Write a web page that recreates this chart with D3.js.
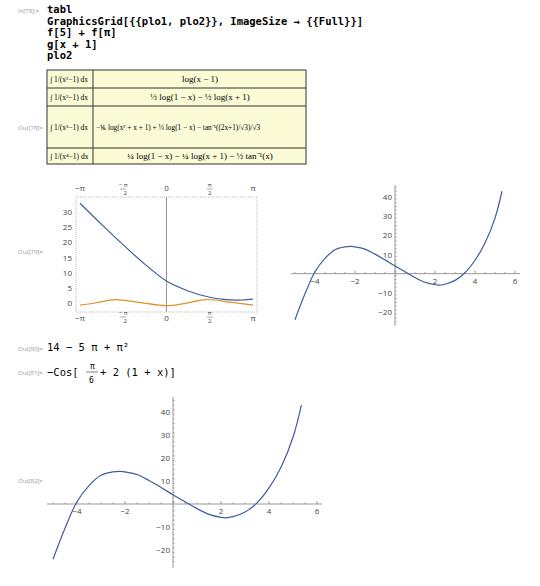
<!DOCTYPE html>
<html>
<head>
<meta charset="UTF-8">
<script src="https://d3js.org/d3.v7.min.js"></script>
<style>
body{margin:0;background:#fff}
.code{font-family:"DejaVu Sans Mono",monospace;font-weight:bold;font-size:10.5px}
.lbl{font-family:"Open Sans",sans-serif;font-size:6px;fill:#999}
.math{font-family:"Liberation Serif",serif;font-size:9px}
.tick{font-family:"Open Sans",sans-serif;font-size:8px;fill:#444}
</style>
</head>
<body>
<svg width="540" height="586"></svg>
<script>
const codeLines = ['tabl', 'GraphicsGrid[{{plo1, plo2}}, ImageSize \u2192 {{Full}}]', 'f[5] + f[\u03c0]', 'g[x + 1]', 'plo2'];
const tableRows = [
  ['\u222b 1/(x\u00b2\u22121) dx', 'log(x \u2212 1)'],
  ['\u222b 1/(x\u00b2\u22121) dx', '\u00bd log(1 \u2212 x) \u2212 \u00bd log(x + 1)'],
  ['\u222b 1/(x\u00b3\u22121) dx', '\u2212\u2159 log(x\u00b2 + x + 1) + \u2153 log(1 \u2212 x) \u2212 tan\u207b\u00b9((2x+1)/\u221a3)/\u221a3'],
  ['\u222b 1/(x\u2074\u22121) dx', '\u00bc log(1 \u2212 x) \u2212 \u00bc log(x + 1) \u2212 \u00bd tan\u207b\u00b9(x)']
];
// plo1 curves
const blueX = [-3.1416,-2.36,-1.57,-0.79,0,0.79,1.57,2.0,2.36,2.75,3.1416];
const blueY = [33,26,19.2,12.8,7.2,3.9,1.8,1.2,0.95,0.9,1.2];
const orangeX = [-3.1416,-2.6,-1.86,-1.0,0,0.7,1.45,2.3,3.1416];
const orangeY = [-0.8,-0.1,1.05,0.1,-1,-0.2,1.05,0.2,-0.8];
// plo2 cubic
const cubX = [-5,-4.5,-4,-3.5,-3,-2.5,-2.2,-2,-1.5,-1,-0.5,0,0.5,1,1.5,2,2.2,2.5,3,3.5,4,4.5,5,5.35];
const cubY = [-24,-10.5,1,8,12.5,14,14.2,14,12.8,10.2,7.2,4,1,-2,-4.5,-5.8,-6,-5.5,-3.5,0.5,7,16,29,43];
const piTicks = [-Math.PI,-Math.PI/2,0,Math.PI/2,Math.PI];
const piLabels = ['\u2212\u03c0','\u2212\u03c0/2','0','\u03c0/2','\u03c0'];
const yTicks1 = [0,5,10,15,20,25,30];
const cubXTicks = [-4,-2,2,4,6];
const cubYTicks = [-20,-10,10,20,30,40];

const svg = d3.select('svg');
const blue = '#3f5d9e', orange = '#e0902a';

// input cell
svg.append('text').attr('class','lbl').attr('x',18).attr('y',13).text('In[78]:=');
codeLines.forEach((t,i) => svg.append('text').attr('class','code').attr('x',47).attr('y',13+i*11.6).text(t));

// table
svg.append('text').attr('class','lbl').attr('x',18).attr('y',130).text('Out[78]=');
const rowY = [70,88,106,148,164];
svg.append('rect').attr('x',47).attr('y',70).attr('width',259).attr('height',94).attr('fill','#fbfbd6').attr('stroke','#333');
svg.append('line').attr('x1',93).attr('x2',93).attr('y1',70).attr('y2',164).attr('stroke','#333');
tableRows.forEach((r,i) => {
  const cy = (rowY[i]+rowY[i+1])/2 + 3;
  if (i>0) svg.append('line').attr('x1',47).attr('x2',306).attr('y1',rowY[i]).attr('y2',rowY[i]).attr('stroke','#333');
  svg.append('text').attr('class','math').attr('x',50).attr('y',cy).style('font-size','7.5px').text(r[0]);
  svg.append('text').attr('class','math').attr('x',i==2?96:200).attr('y',cy).attr('text-anchor',i==2?'start':'middle')
    .style('font-size',i==2?'7.3px':'9px').text(r[1]);
});

// plo1
svg.append('text').attr('class','lbl').attr('x',18).attr('y',254).text('Out[79]=');
const x1 = d3.scaleLinear().domain([-Math.PI,Math.PI]).range([80,253]);
const y1 = d3.scaleLinear().domain([0,30]).range([302.7,212.3]);
svg.append('rect').attr('x',76).attr('y',197).attr('width',181).attr('height',115).attr('fill','none').attr('stroke','#bbb').attr('stroke-dasharray','1,1');
svg.append('line').attr('x1',x1(0)).attr('x2',x1(0)).attr('y1',197).attr('y2',312).attr('stroke','#999');
piTicks.forEach((v,i) => {
  [[191,'top'],[319,'bot']].forEach(([yy,w]) => {
    const lab = piLabels[i];
    if (lab.includes('/')) {
      const g = svg.append('g').attr('class','tick');
      const num = lab.startsWith('\u2212') ? '\u2212 \u03c0' : '\u03c0';
      g.append('text').attr('x',x1(v)).attr('y',yy-4).attr('text-anchor','middle').style('font-size','6px').text(num);
      g.append('line').attr('x1',x1(v)-3).attr('x2',x1(v)+3).attr('y1',yy-2).attr('y2',yy-2).attr('stroke','#555').attr('stroke-width',0.5);
      g.append('text').attr('x',x1(v)+ (lab.startsWith('\u2212')?2:0)).attr('y',yy+4).attr('text-anchor','middle').style('font-size','6px').text('2');
    } else {
      svg.append('text').attr('class','tick').attr('x',x1(v)).attr('y',yy+(w=='bot'?2:0)).attr('text-anchor','middle').text(lab);
    }
  });
});
yTicks1.forEach(v => svg.append('text').attr('class','tick').attr('x',72).attr('y',y1(v)+3).attr('text-anchor','end').text(v));
const line1 = d3.line().x(d=>x1(d[0])).y(d=>y1(d[1])).curve(d3.curveCatmullRom);
svg.append('path').attr('d',line1(d3.zip(blueX,blueY))).attr('fill','none').attr('stroke',blue).attr('stroke-width',1.2);
svg.append('path').attr('d',line1(d3.zip(orangeX,orangeY))).attr('fill','none').attr('stroke',orange).attr('stroke-width',1.2);

// cubic plot helper
function cubic(xr, yr, xAx, yAx) {
  const x = d3.scaleLinear().domain([-4,6]).range(xr);
  const y = d3.scaleLinear().domain([-20,40]).range(yr);
  const g = svg.append('g');
  g.append('line').attr('x1',xAx[0]).attr('x2',xAx[1]).attr('y1',y(0)).attr('y2',y(0)).attr('stroke','#999');
  g.append('line').attr('x1',x(0)).attr('x2',x(0)).attr('y1',yAx[0]).attr('y2',yAx[1]).attr('stroke','#999');
  d3.range(-5,6.01,0.5).forEach(v => g.append('line').attr('x1',x(v)).attr('x2',x(v)).attr('y1',y(0)).attr('y2',y(0)-(v%2==0?3:1.5)).attr('stroke','#999'));
  d3.range(-25,46,2).forEach(v => g.append('line').attr('x1',x(0)).attr('x2',x(0)+(v%10==0?3:1.5)).attr('y1',y(v)).attr('y2',y(v)).attr('stroke','#999'));
  cubXTicks.forEach(v => g.append('text').attr('class','tick').attr('x',x(v)).attr('y',y(0)+10).attr('text-anchor','middle').text(v<0?'\u2212'+(-v):v));
  cubYTicks.forEach(v => g.append('text').attr('class','tick').attr('x',x(0)-3).attr('y',y(v)+3).attr('text-anchor','end').text(v<0?'\u2212'+(-v):v));
  const l = d3.line().x(d=>x(d[0])).y(d=>y(d[1])).curve(d3.curveCatmullRom);
  g.append('path').attr('d',l(d3.zip(cubX,cubY))).attr('fill','none').attr('stroke',blue).attr('stroke-width',1.2);
}
cubic([315,515],[312,197],[291,520],[185,326]);

svg.append('text').attr('class','lbl').attr('x',18).attr('y',351).text('Out[80]=');
svg.append('text').attr('class','code').attr('x',47).attr('y',351).style('font-weight','normal').text('14 \u2212 5 \u03c0 + \u03c0\u00b2');
svg.append('text').attr('class','lbl').attr('x',18).attr('y',375).text('Out[81]=');
svg.append('text').attr('class','code').attr('x',47).attr('y',376).style('font-weight','normal').text('\u2212Cos[');
svg.append('text').attr('class','code').attr('x',90).attr('y',369).style('font-weight','normal').style('font-size','8px').text('\u03c0');
svg.append('line').attr('x1',86).attr('x2',98).attr('y1',372).attr('y2',372).attr('stroke','#333').attr('stroke-width',0.6);
svg.append('text').attr('class','code').attr('x',89).attr('y',383).style('font-weight','normal').style('font-size','8px').text('6');
svg.append('text').attr('class','code').attr('x',100).attr('y',376).style('font-weight','normal').text('+ 2 (1 + x)]');

svg.append('text').attr('class','lbl').attr('x',18).attr('y',483).text('Out[82]=');
cubic([77,317],[550,412],[47,322],[397,568]);
</script>
</body>
</html>
